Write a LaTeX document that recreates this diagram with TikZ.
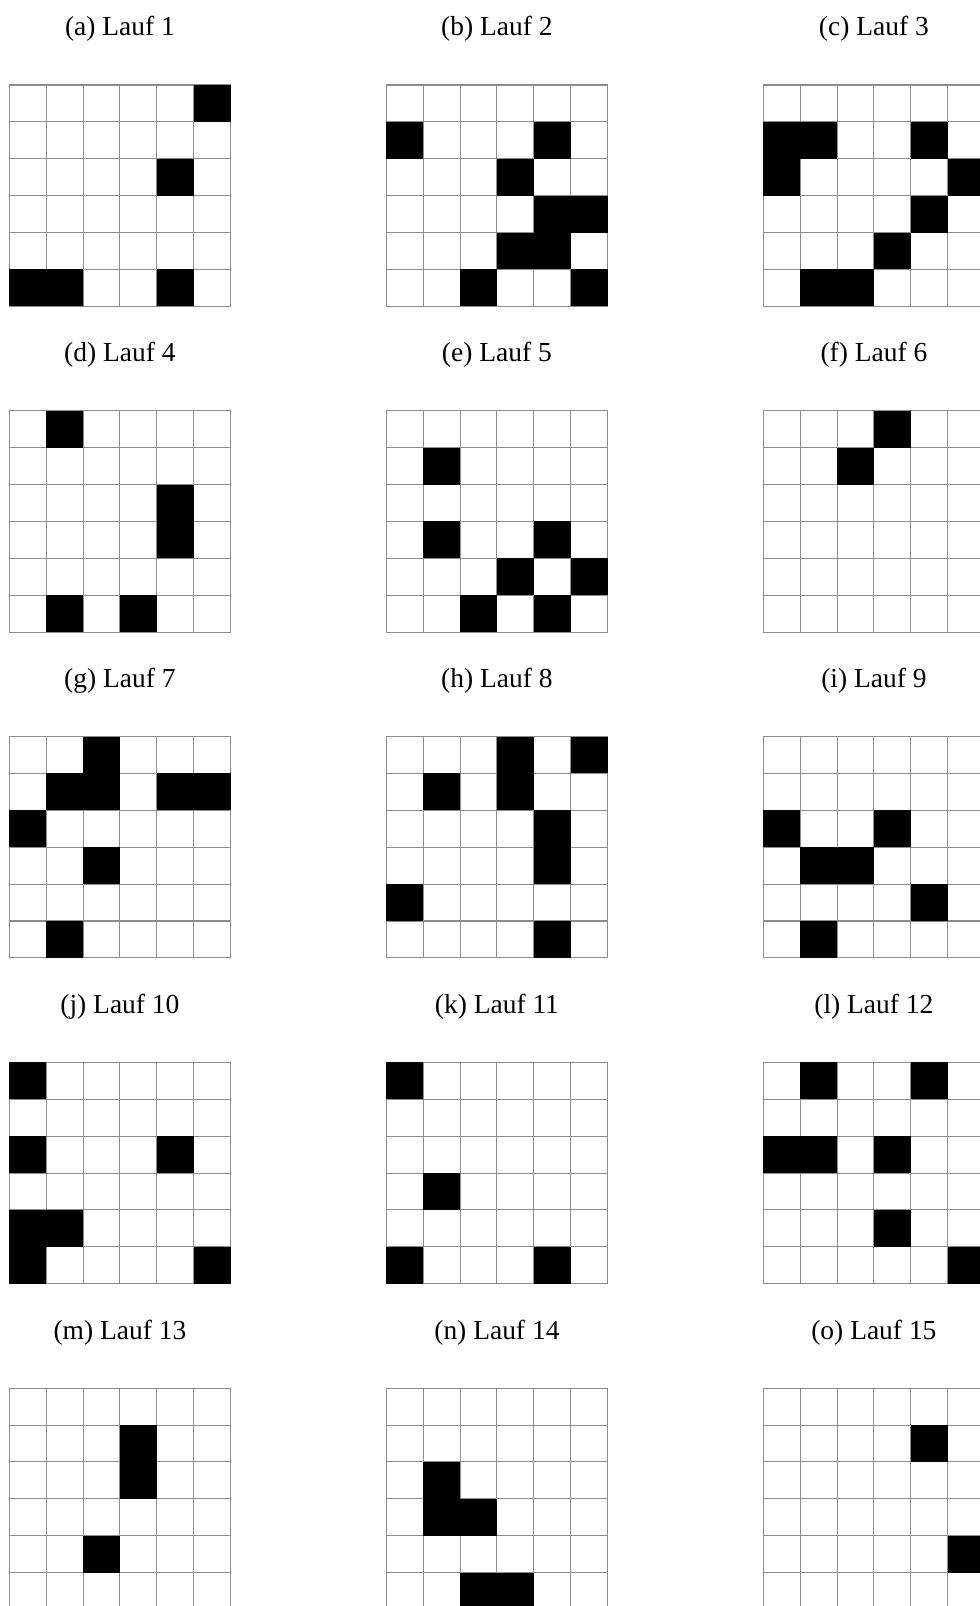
\documentclass[tikz,border=0pt]{standalone}
\usepackage{fontspec}
\setmainfont{Liberation Serif}

\begin{document}
\begin{tikzpicture}[x=0.5cm,y=-0.5cm,
  gridline/.style={draw=black!45,line width=0.4pt},
  hit/.style={fill=black},
  runlabel/.style={font=\fontsize{10.6}{12}\selectfont,anchor=base,inner sep=0pt}]
  \useasboundingbox (0,0) rectangle (26.573,43.547);
  \clip (0,0) rectangle (26.573,43.547);
  % one 6x6 board per run, list = row/col of the black cells
  \foreach \k/\lab/\cells in {
    0/a/{0/5,2/4,5/0,5/1,5/4},
    1/b/{1/0,1/4,2/3,3/4,3/5,4/3,4/4,5/2,5/5},
    2/c/{1/0,1/1,1/4,2/0,2/5,3/4,4/3,5/1,5/2},
    3/d/{0/1,2/4,3/4,5/1,5/3},
    4/e/{1/1,3/1,3/4,4/3,4/5,5/2,5/4},
    5/f/{0/3,1/2},
    6/g/{0/2,1/1,1/2,1/4,1/5,2/0,3/2,5/1},
    7/h/{0/3,0/5,1/1,1/3,2/4,3/4,4/0,5/4},
    8/i/{2/0,2/3,3/1,3/2,4/4,5/1},
    9/j/{0/0,2/0,2/4,4/0,4/1,5/0,5/5},
    10/k/{0/0,3/1,5/0,5/4},
    11/l/{0/1,0/4,2/0,2/1,2/3,4/3,5/5},
    12/m/{1/3,2/3,4/2},
    13/n/{2/1,3/1,3/2,5/2,5/3},
    14/o/{1/4,4/5}} {
    \pgfmathtruncatemacro\gc{mod(\k,3)}
    \pgfmathtruncatemacro\gr{div(\k,3)}
    \pgfmathsetmacro\gx{0.252+10.222*\gc}
    \pgfmathsetmacro\gy{2.305+8.834*\gr}
    \pgfmathtruncatemacro\run{\k+1}
    \node[runlabel] (lab\run) at (\gx+3,\gy-1.329) {(\lab) Lauf \run};
    \begin{scope}[shift={(\gx,\gy)}]
      \foreach \i in {0,...,6} \draw[gridline] (\i,0) -- (\i,6) (0,\i) -- (6,\i);
      \foreach \r/\c in \cells \fill[hit] (\c,\r) rectangle ++(1,1);
    \end{scope}
  }
\end{tikzpicture}
\end{document}
